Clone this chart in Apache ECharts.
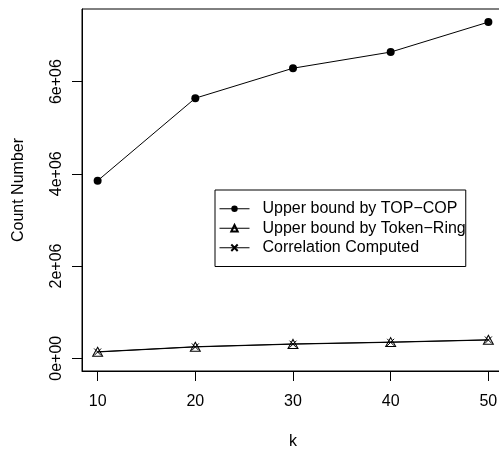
<!DOCTYPE html>
<html>
<head>
<meta charset="utf-8">
<script src="https://cdn.jsdelivr.net/npm/echarts@6/dist/echarts.min.js"></script>
<style>
    html, body { margin: 0; padding: 0; background: #fff; }
    #chart { width: 499px; height: 453px; }
</style>
</head>
<body>
<div id="chart"></div>
<script>
// values
var kValues = [10, 20, 30, 40, 50];
var topCop = [3850000, 5640000, 6290000, 6640000, 7290000];
var tokenRing = [140000, 250000, 310000, 350000, 400000];
var corrComputed = [135000, 245000, 305000, 345000, 395000];

var xTickValues = [10, 20, 30, 40, 50];
var yTickValues = [0, 2000000, 4000000, 6000000];
var yTickLabels = ['0e+00', '2e+06', '4e+06', '6e+06'];

var FONT = 'Liberation Sans, Arial, sans-serif';

function pairs(xs, ys) {
    var out = [];
    for (var i = 0; i < xs.length; i++) {
        out.push([xs[i], ys[i]]);
    }
    return out;
}

var chart = echarts.init(document.getElementById('chart'));

var option = {
    animation: false,
    backgroundColor: '#fff',
    grid: {
        left: 82,
        top: 9,
        width: 422,
        height: 362,
        show: true,
        borderColor: '#000',
        borderWidth: 1,
        outerBoundsMode: 'none'
    },
    legend: {
        orient: 'vertical',
        left: 215,
        top: 190,
        padding: [9, 0, 9, 4],
        borderColor: '#000',
        borderWidth: 1,
        itemWidth: 30,
        itemHeight: 8,
        itemGap: 0,
        lineStyle: { width: 1 },
        textStyle: {
            fontFamily: FONT,
            fontSize: 16,
            color: '#000',
            lineHeight: 19.5,
            padding: [0, 0, 0, 8]
        },
        data: ['Upper bound by TOP−COP', 'Upper bound by Token−Ring', 'Correlation Computed']
    },
    xAxis: {
        type: 'value',
        min: 8.4,
        max: 51.6,
        name: 'k',
        nameLocation: 'middle',
        nameGap: 63,
        nameTextStyle: { fontFamily: FONT, fontSize: 16, color: '#000' },
        axisLine: { show: true, onZero: false, lineStyle: { color: '#000', width: 1 } },
        axisTick: {
            show: true,
            length: 10,
            customValues: xTickValues,
            lineStyle: { color: '#000' }
        },
        axisLabel: {
            customValues: xTickValues,
            margin: 23,
            fontFamily: FONT,
            fontSize: 16,
            color: '#000'
        },
        splitLine: { show: false }
    },
    yAxis: {
        type: 'value',
        min: -277000,
        max: 7574000,
        name: 'Count Number',
        nameLocation: 'middle',
        nameGap: 55,
        nameTextStyle: { fontFamily: FONT, fontSize: 16, color: '#000' },
        axisLine: { show: true, onZero: false, lineStyle: { color: '#000', width: 1 } },
        axisTick: {
            show: true,
            length: 10,
            customValues: yTickValues,
            lineStyle: { color: '#000' }
        },
        axisLabel: {
            customValues: yTickValues,
            rotate: 90,
            margin: 17,
            fontFamily: FONT,
            fontSize: 16,
            color: '#000',
            formatter: function (v) {
                var i = yTickValues.indexOf(v);
                return i >= 0 ? yTickLabels[i] : '';
            }
        },
        splitLine: { show: false }
    },
    series: [
        {
            name: 'Upper bound by TOP−COP',
            type: 'line',
            data: pairs(kValues, topCop),
            symbol: 'circle',
            symbolSize: 8,
            showAllSymbol: true,
            itemStyle: { color: '#000' },
            lineStyle: { color: '#000', width: 1 }
        },
        {
            name: 'Upper bound by Token−Ring',
            type: 'line',
            data: pairs(kValues, tokenRing),
            symbol: 'path://M0,-1L0.866,0.5L-0.866,0.5Z',
            symbolSize: [10, 9],
            showAllSymbol: true,
            itemStyle: { color: 'rgba(0,0,0,0)', borderColor: '#000', borderWidth: 1 },
            lineStyle: { color: '#000', width: 1 }
        },
        {
            name: 'Correlation Computed',
            type: 'line',
            data: pairs(kValues, corrComputed),
            symbol: 'path://M-1,-1L1,1M1,-1L-1,1',
            symbolSize: 7,
            showAllSymbol: true,
            itemStyle: { color: 'rgba(0,0,0,0)', borderColor: '#000', borderWidth: 1 },
            lineStyle: { color: '#000', width: 1 }
        }
    ]
};

chart.setOption(option);
</script>
</body>
</html>
